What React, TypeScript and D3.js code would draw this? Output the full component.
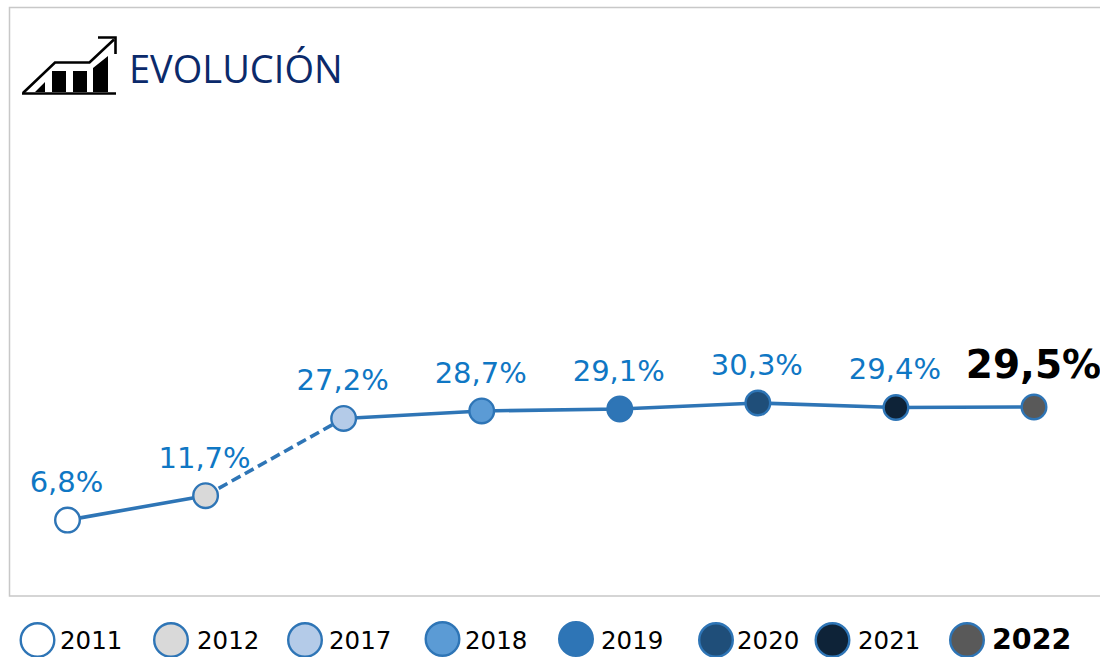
import React from "react";
import * as d3 from "d3";

const years = ["2011", "2012", "2017", "2018", "2019", "2020", "2021", "2022"];
const values = [6.8, 11.7, 27.2, 28.7, 29.1, 30.3, 29.4, 29.5];
const valueLabels = ["6,8%", "11,7%", "27,2%", "28,7%", "29,1%", "30,3%", "29,4%", "29,5%"];
const fills = ["#ffffff", "#d9d9d9", "#b4cbe8", "#5b9bd5", "#2e75b6", "#1f4e79", "#0e2338", "#595959"];
const legendCenters = [37.5, 171, 305, 442.5, 576, 716, 832.5, 967];
const legendCy = [640, 640, 640, 639, 639, 640, 640, 640];
const legendTextX = [60, 197, 329, 465, 601, 737, 858, 992];

const BLUE = "#2e75b6";
const LABEL = "#0f77c4";
const FONT = "'DejaVu Sans', Verdana, sans-serif";

const x = d3.scalePoint<string>().domain(years).range([67.5, 1034]);
const y = d3.scaleLinear().domain([0, 30.3]).range([554, 403]);
const line = d3.line<number>().x((_, i) => x(years[i])!).y((d) => y(d));

export default function App() {
  const solidA = line(values.slice(0, 2));
  const dashed = d3.line<number>().x((_, i) => x(years[i + 1])!).y((d) => y(d))(values.slice(1, 3));
  const solidB = d3.line<number>().x((_, i) => x(years[i + 2])!).y((d) => y(d))(values.slice(2));
  return (
    <svg width={1100} height={657} style={{ position: "fixed", left: 0, top: 0, background: "#fff" }}>
      <path d="M1100 7.5H9.5V596H1100" fill="none" stroke="#c8c8c8" strokeWidth={1.5} />

      <g>
        <path d="M22 93.5H116" stroke="#000" strokeWidth={2.6} fill="none" />
        <path d="M23 93L55 62.5H89.5L114 39.5" stroke="#000" strokeWidth={2.6} fill="none" />
        <path d="M98 37.5H115.5V54" stroke="#000" strokeWidth={2.6} fill="none" />
        <path d="M35 92L45 82V92Z M52 92V71H66V92Z M73 92V71H87V92Z M93 92V68L108 56V92Z" fill="#000" />
      </g>
      <text x={129} y={83} fontFamily="'Open Sans', sans-serif" fontSize={38} fill="#0b2a6b">EVOLUCIÓN</text>

      <path d={solidA!} fill="none" stroke={BLUE} strokeWidth={3.6} />
      <path d={dashed!} fill="none" stroke={BLUE} strokeWidth={3.6} strokeDasharray="10 5" />
      <path d={solidB!} fill="none" stroke={BLUE} strokeWidth={3.6} />

      {values.map((v, i) => (
        <circle key={years[i]} cx={x(years[i])} cy={y(v)} r={12.3} fill={fills[i]} stroke={BLUE} strokeWidth={2.4} />
      ))}

      {values.map((v, i) => {
        const last = i === values.length - 1;
        return (
          <text
            key={years[i]}
            x={x(years[i])! + (last ? -0.5 : -1)}
            y={y(v) - (last ? 29 : 28)}
            textAnchor="middle"
            fontFamily={FONT}
            fontSize={last ? 39 : 29}
            fontWeight={last ? 700 : 400}
            fill={last ? "#000" : LABEL}
          >
            {valueLabels[i]}
          </text>
        );
      })}

      {years.map((yr, i) => {
        const last = i === years.length - 1;
        return (
          <g key={yr}>
            <circle cx={legendCenters[i]} cy={legendCy[i]} r={16.8} fill={fills[i]} stroke={BLUE} strokeWidth={2.4} />
            <text
              x={legendTextX[i]}
              y={649}
              fontFamily={FONT}
              fontSize={last ? 28.5 : 24.5}
              fontWeight={last ? 700 : 400}
              fill="#000"
            >
              {yr}
            </text>
          </g>
        );
      })}
    </svg>
  );
}
